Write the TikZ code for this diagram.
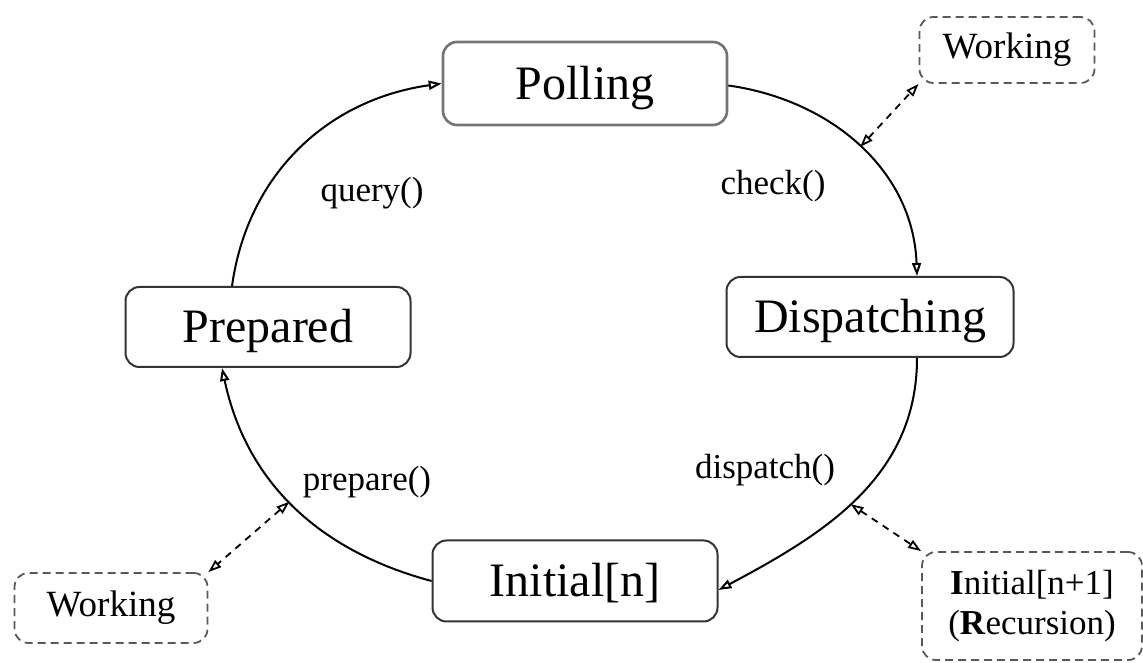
\documentclass[tikz,border=0pt]{standalone}
\usepackage{fontspec}
\setmainfont{Liberation Serif}
\usetikzlibrary{arrows.meta}
\tikzset{
  every node/.append style={font=\fontsize{35}{40}\selectfont},
  state/.style={draw=black!80, line width=2pt, rounded corners=14pt,
    minimum width=285pt, minimum height=81pt, text height=40pt, text depth=8pt,
    font=\fontsize{48}{56}\selectfont},
  aux/.style={draw=black!65, dashed, dash pattern=on 8pt off 5pt, line width=1.8pt,
    rounded corners=14pt, align=center, font=\fontsize{37}{42}\selectfont},
  flow/.style={line width=2pt, -{Triangle[open, length=13pt, width=9pt]}},
  link/.style={dashed, dash pattern=on 7pt off 6pt, line width=1.8pt,
    {Triangle[open, length=13pt, width=9pt]}-{Triangle[open, length=13pt, width=9pt]}}
}
\begin{document}
\begin{tikzpicture}[x=1pt, y=1pt]
    \useasboundingbox (0,0) rectangle (1143,663);
    % states
    \node[state, draw=black!55, line width=2.6pt, minimum width=284pt, minimum height=83pt] (polling) at (585,579.5) {Polling};
    \node[state, minimum width=287pt, minimum height=80pt] (dispatching) at (870,346) {Dispatching};
    \node[state, minimum height=80pt] (prepared) at (268,336) {Prepared};
    \node[state] (initial) at (575,82) {Initial[n]};
    % side boxes
    \node[aux, minimum width=175pt, minimum height=66pt] (workA) at (1007,613) {Working};
    \node[aux, minimum width=193pt, minimum height=70pt] (workB) at (111,55) {Working};
    \node[aux, font=\fontsize{35}{40}\selectfont, minimum width=220pt, minimum height=108pt] (recursion) at (1032,57)
        {\textbf{I}nitial[n+1]\\(\textbf{R}ecursion)};
    % cycle
    \draw[flow] ([xshift=-36pt]prepared.north) to[out=82, in=188] (polling.west);
    \draw[flow] ([yshift=-2pt]polling.east) to[out=-8, in=92] coordinate[pos=0.5] (pA) ([xshift=47pt]dispatching.north);
    \draw[flow] ([xshift=47pt]dispatching.south) to[out=-90, in=28] coordinate[pos=0.53] (pC) ([yshift=-9pt]initial.east);
    \draw[flow] (initial.west) to[out=165, in=-78] coordinate[pos=0.52] (pB) ([xshift=-46pt]prepared.south);
    % labels
    \node (query) at (372,470) {query()};
    \node (check) at (773,477) {check()};
    \node (prepare) at (367,181) {prepare()};
    \node (dispatch) at (765,193) {dispatch()};
    % side links
    \draw[link] (pA) -- (workA.south west);
    \draw[link] (pB) -- (workB.north east);
    \draw[link] (pC) -- (recursion.north west);
\end{tikzpicture}
\end{document}
